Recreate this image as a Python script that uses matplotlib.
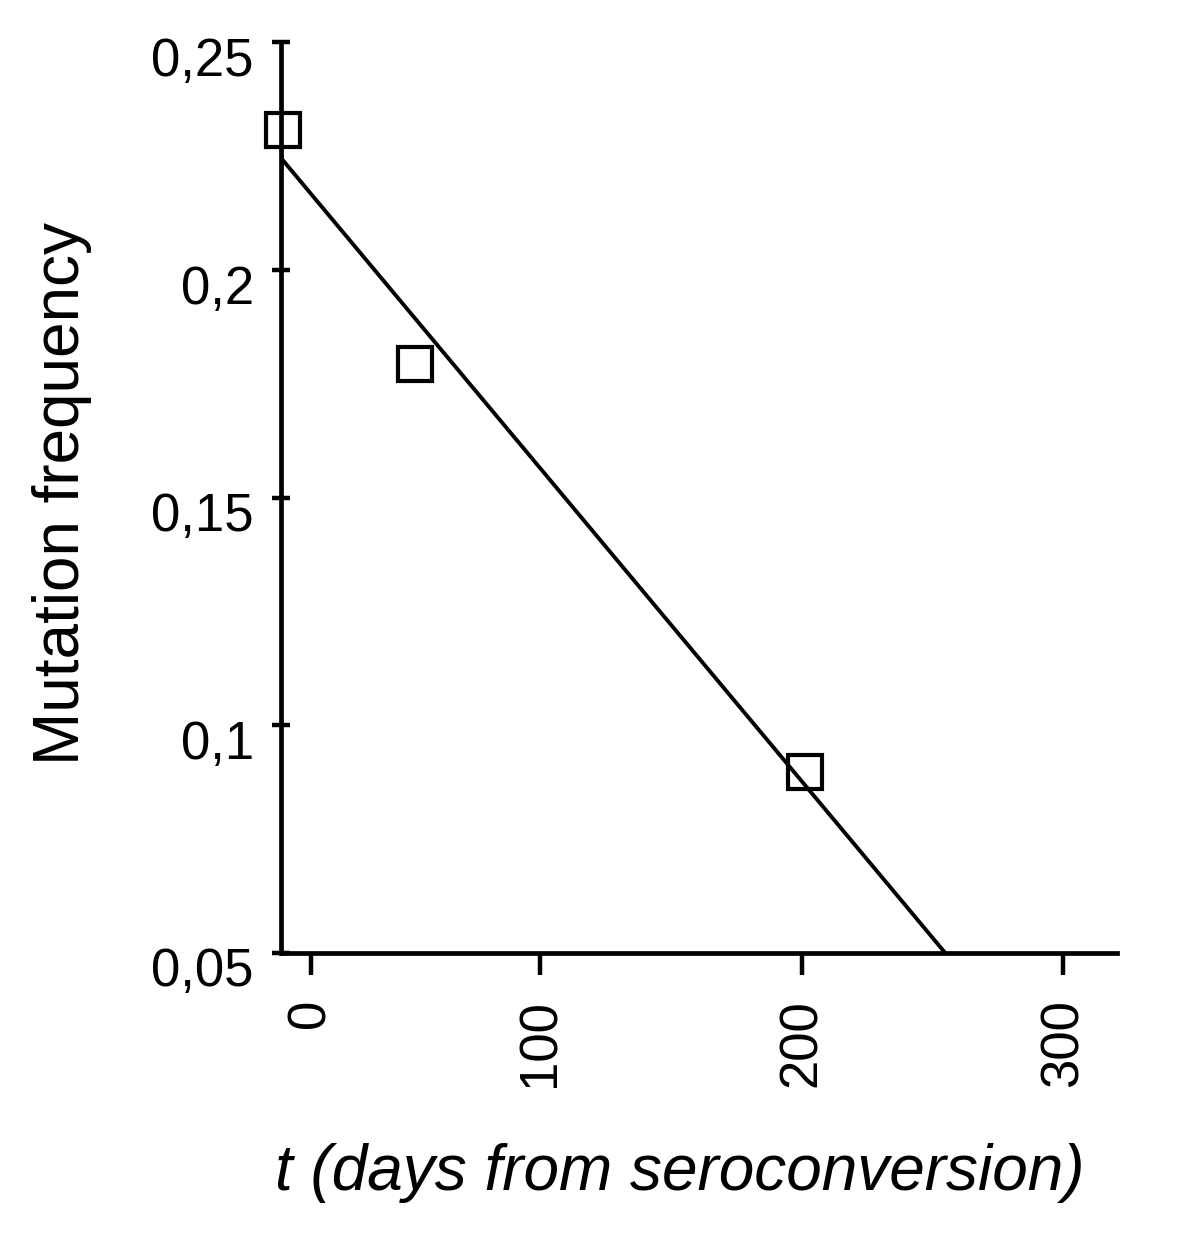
import numpy as np
import matplotlib
matplotlib.use("Agg")
import matplotlib.pyplot as plt
from matplotlib.transforms import ScaledTranslation

plt.rcParams['font.family'] = ['Liberation Sans', 'DejaVu Sans']

# measured points (days, mutation frequency)
days = [1.7, 52.2, 201.3]
mut_freq = [0.2308, 0.1794, 0.0898]

# regression line end points
fit_days = [0.96, 254.9]
fit_freq = [0.2246, 0.05]

# axis ticks
xtick_pos = [12.4, 100, 200, 300]
xtick_lab = ['0', '100', '200', '300']
ytick_pos = [0.05, 0.1, 0.15, 0.2, 0.25]
ytick_lab = ['0,05', '0,1', '0,15', '0,2', '0,25']

fig = plt.figure(figsize=(12, 12.36), dpi=100)
ax = fig.add_axes([0.2342, 0.2290, 0.6967, 0.7367])

ax.plot(fit_days, fit_freq, color='black', lw=2.8, solid_capstyle='butt', zorder=2)
ax.plot(days, mut_freq, ls='none', marker='s', ms=24.5, mfc='none', mec='black', mew=3.0,
        clip_on=False, zorder=3)

ax.set_xlim(0.96, 320.6)
ax.set_ylim(0.05, 0.25)

for s in ['top', 'right']:
    ax.spines[s].set_visible(False)
for s in ['left', 'bottom']:
    ax.spines[s].set_linewidth(3.4)

ax.set_xticks(xtick_pos)
ax.set_xticklabels(xtick_lab, rotation=90, va='top', ha='center')
ax.set_yticks(ytick_pos)
ax.set_yticklabels(ytick_lab)

ax.tick_params(axis='x', direction='out', length=16, width=3.2, pad=17, labelsize=38)
ax.tick_params(axis='y', direction='inout', length=13, width=3.2, pad=13, labelsize=38)

# y tick labels sit a bit below their ticks in the original
off = ScaledTranslation(0, -14 / 100, fig.dpi_scale_trans)
for lab in ax.get_yticklabels():
    lab.set_transform(lab.get_transform() + off)

fig.text(0.052, 0.601, 'Mutation frequency', rotation=90, ha='center', va='center', fontsize=46)
fig.text(0.5667, 0.051, 't (days from seroconversion)', style='italic', ha='center', va='center',
         fontsize=46)

fig.savefig('out.png', dpi=100)
